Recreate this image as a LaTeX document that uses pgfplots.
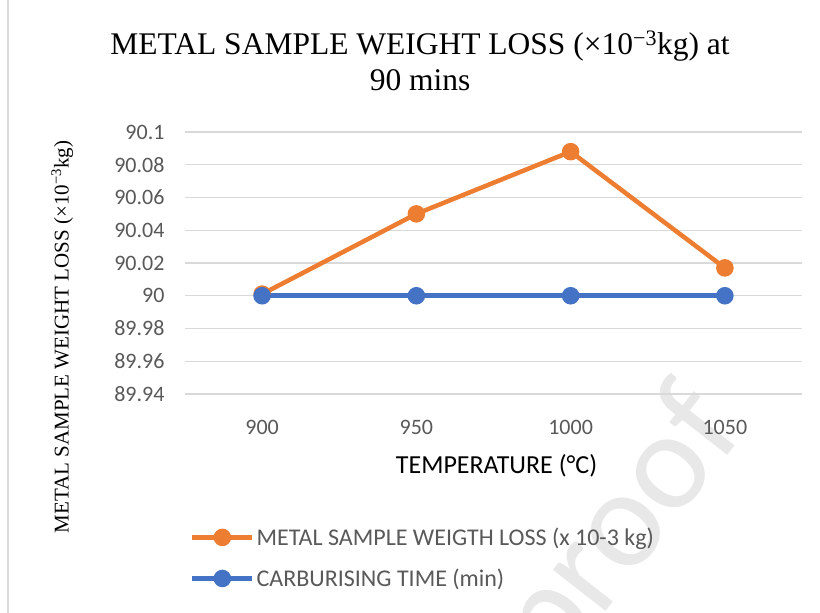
\documentclass[border=0pt]{standalone}
\usepackage{fontspec}
\setmainfont{Carlito}
\newfontfamily\tnr{Liberation Serif}
\usepackage{pgfplots}
\pgfplotsset{compat=1.18}
\definecolor{cOrange}{HTML}{ED7D31}
\definecolor{cBlue}{HTML}{4472C4}
\definecolor{cGrid}{HTML}{D9D9D9}
\definecolor{cText}{HTML}{595959}
\definecolor{cWm}{HTML}{E8E8E8}
\begin{document}
\begin{tikzpicture}[x=1pt,y=1pt]
\useasboundingbox (0,0) rectangle (820,613);
\fill[white] (0,0) rectangle (820,613);
\draw[cGrid, line width=1.5pt] (8,0) -- (8,613);
\node[rotate=52, text=cWm, font=\fontsize{140}{140}\selectfont] at (622,82) {proof};
\begin{axis}[
  at={(185pt,219pt)}, anchor=south west,
  scale only axis, width=617pt, height=262pt,
  xmin=875, xmax=1075,
  ymin=89.94, ymax=90.1,
  axis line style={draw=none},
  tick style={draw=none},
  ymajorgrids, grid style={cGrid, line width=1.2pt},
  xtick={900,950,1000,1050},
  xticklabels={900,950,1000,1050},
  ytick={89.94,89.96,89.98,90,90.02,90.04,90.06,90.08,90.1},
  yticklabels={89.94,89.96,89.98,90,90.02,90.04,90.06,90.08,90.1},
  ticklabel style={font=\fontsize{22}{22}\selectfont, text=cText},
  yticklabel style={xshift=-17pt},
  xticklabel style={yshift=-23pt},
  xlabel={TEMPERATURE (°C)},
  xlabel style={font=\fontsize{26}{26}\selectfont, text=black, at={(rel axis cs:0.505,-0.275)}, anchor=center},
  ylabel={\tnr METAL SAMPLE WEIGHT LOSS (×10\textsuperscript{−3}kg)},
  ylabel style={font=\fontsize{21}{21}\selectfont, at={(rel axis cs:-0.199,0.218)}, anchor=center},
  title={\tnr METAL SAMPLE WEIGHT LOSS (×10\textsuperscript{−3}kg) at\\\tnr 90 mins},
  title style={font=\fontsize{31.5}{36}\selectfont, align=center, at={(rel axis cs:0.381,1.25)}, anchor=center},
  legend style={at={(rel axis cs:0.008,-0.495)}, anchor=north west, draw=none, fill=none,
    font=\fontsize{24}{24}\selectfont, text=cText, row sep=18pt, inner xsep=0pt,
    legend cell align=left, nodes={inner xsep=2pt}},
  legend image code/.code={\draw[mark repeat=2,mark phase=2,#1] plot coordinates {(0pt,0pt)(30pt,0pt)(60pt,0pt)};},
]
\addplot[cOrange, line width=4.5pt, mark=*, mark size=6.5pt, mark options={solid}] coordinates {
(900,90.001) (950,90.05) (1000,90.088) (1050,90.017)};
\addlegendentry{METAL SAMPLE WEIGTH LOSS (x 10-3 kg)}
\addplot[cBlue, line width=4.5pt, mark=*, mark size=6.5pt] coordinates {
(900,90) (950,90) (1000,90) (1050,90)};
\addlegendentry{CARBURISING TIME (min)}
\end{axis}
\end{tikzpicture}
\end{document}
